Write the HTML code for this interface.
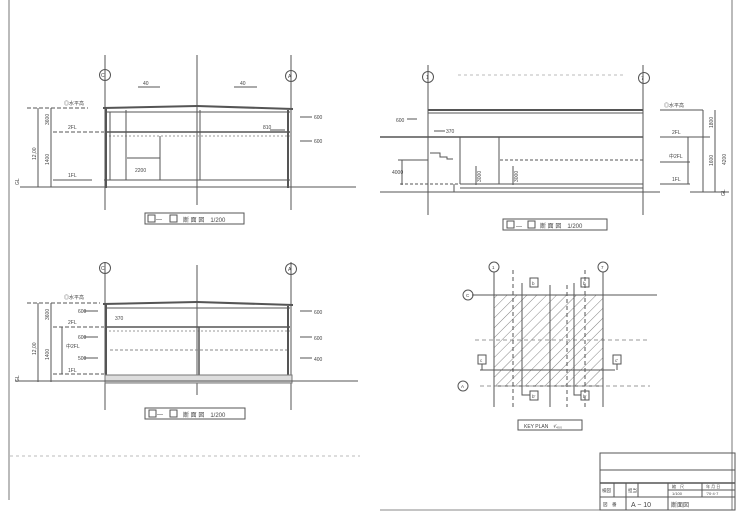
<!DOCTYPE html>
<html><head><meta charset="utf-8"><style>
html,body{margin:0;padding:0;background:#fff;}
svg{display:block;}
text{font-family:"Liberation Sans","Noto Sans CJK JP",sans-serif;fill:#444;}
</style></head><body>
<svg width="739" height="515" viewBox="0 0 739 515" xmlns="http://www.w3.org/2000/svg">
<rect width="739" height="515" fill="#fff"/>
<g stroke="#555" fill="none" stroke-width="1">
<!-- sheet borders -->
<line x1="9" y1="0" x2="9" y2="500" stroke="#777"/>
<line x1="732" y1="0" x2="732" y2="510" stroke="#777"/>
<line x1="10" y1="456" x2="360" y2="456" stroke="#bbb" stroke-dasharray="3 3"/>
<line x1="380" y1="510" x2="735" y2="510" stroke="#888"/>

<!-- ===== Section a-a (top-left) ===== -->
<line x1="105" y1="55" x2="105" y2="210"/>
<line x1="291" y1="55" x2="291" y2="210"/>
<line x1="197" y1="55" x2="197" y2="205"/>
<circle cx="105" cy="75" r="5.5"/><circle cx="291" cy="76" r="5.5"/>
<line x1="20" y1="187" x2="356" y2="187"/>
<line x1="103" y1="108" x2="197" y2="106" stroke-width="2"/>
<line x1="197" y1="106" x2="293" y2="109" stroke-width="2"/>
<line x1="105" y1="112" x2="290" y2="112"/>
<line x1="105" y1="132" x2="290" y2="132" stroke-width="1.5"/>
<line x1="105" y1="136" x2="290" y2="136" stroke="#999" stroke-dasharray="2 2"/>
<line x1="106" y1="108" x2="106" y2="188" stroke-width="2"/>
<line x1="288" y1="110" x2="288" y2="188" stroke-width="2"/>
<line x1="110" y1="112" x2="110" y2="180"/>
<line x1="126" y1="110" x2="126" y2="180"/>
<line x1="160" y1="136" x2="160" y2="180"/>
<line x1="200" y1="110" x2="200" y2="180"/>
<line x1="127" y1="158" x2="160" y2="158"/>
<line x1="104" y1="180" x2="290" y2="180"/>
<line x1="27" y1="108" x2="88" y2="108" stroke-dasharray="4 2"/>
<line x1="53" y1="132" x2="104" y2="132" stroke-dasharray="4 2"/>
<line x1="53" y1="180" x2="92" y2="180"/>
<line x1="38" y1="108" x2="38" y2="187"/>
<line x1="51" y1="108" x2="51" y2="187"/>
<line x1="138" y1="87" x2="160" y2="87"/><line x1="234" y1="87" x2="257" y2="87"/>
<line x1="300" y1="117" x2="312" y2="117"/><line x1="300" y1="141" x2="312" y2="141"/>
<line x1="270" y1="130" x2="285" y2="130"/>
<rect x="145" y="213" width="99" height="11"/>
<rect x="148" y="215" width="7" height="7"/><rect x="170" y="215" width="7" height="7"/>

<!-- ===== Section c-c (top-right) ===== -->
<line x1="428" y1="65" x2="428" y2="215"/>
<line x1="643" y1="65" x2="643" y2="215"/>
<circle cx="428" cy="77" r="5.5"/><circle cx="644" cy="78" r="5.5"/>
<line x1="458" y1="75" x2="625" y2="75" stroke="#bbb" stroke-dasharray="3 3"/>
<line x1="428" y1="110" x2="643" y2="110" stroke-width="2"/>
<line x1="428" y1="113" x2="643" y2="113"/>
<line x1="380" y1="137" x2="643" y2="137" stroke-width="1.5"/>
<line x1="380" y1="192" x2="660" y2="192"/>
<line x1="460" y1="184" x2="643" y2="184"/>
<line x1="460" y1="188" x2="643" y2="188"/>
<line x1="460" y1="137" x2="460" y2="184"/>
<line x1="499" y1="137" x2="499" y2="184"/>
<line x1="500" y1="160" x2="643" y2="160" stroke-dasharray="3 2"/>
<line x1="454" y1="184" x2="454" y2="192"/>
<line x1="398" y1="160" x2="428" y2="160"/>
<line x1="402" y1="160" x2="402" y2="185"/>
<line x1="400" y1="184" x2="460" y2="184" stroke-dasharray="3 2"/>
<polyline points="430,153 440,153 440,157 447,157 447,159 453,159"/>
<line x1="476" y1="166" x2="476" y2="185"/><line x1="513" y1="166" x2="513" y2="185"/>
<line x1="660" y1="110" x2="703" y2="110"/>
<line x1="660" y1="137" x2="710" y2="137"/>
<line x1="660" y1="162" x2="690" y2="162"/>
<line x1="660" y1="184" x2="690" y2="184"/>
<line x1="688" y1="137" x2="688" y2="184"/>
<line x1="703" y1="110" x2="703" y2="192"/>
<line x1="715" y1="110" x2="715" y2="192"/>
<line x1="690" y1="192" x2="729" y2="192"/>
<line x1="407" y1="119" x2="417" y2="119"/>
<line x1="434" y1="131" x2="445" y2="131"/>
<rect x="503" y="219" width="104" height="11"/>
<rect x="507" y="221" width="7" height="7"/><rect x="528" y="221" width="7" height="7"/>

<!-- ===== Section b-b (bottom-left) ===== -->
<line x1="105" y1="262" x2="105" y2="410"/>
<line x1="291" y1="262" x2="291" y2="410"/>
<line x1="197" y1="265" x2="197" y2="395"/>
<circle cx="105" cy="268" r="5.5"/><circle cx="291" cy="269" r="5.5"/>
<line x1="103" y1="304" x2="197" y2="302" stroke-width="2"/>
<line x1="197" y1="302" x2="293" y2="305" stroke-width="2"/>
<line x1="105" y1="308" x2="290" y2="308"/>
<line x1="105" y1="327" x2="290" y2="327" stroke-width="1.5"/>
<line x1="105" y1="331" x2="290" y2="331" stroke="#999" stroke-dasharray="2 2"/>
<line x1="110" y1="350" x2="290" y2="350" stroke="#888" stroke-dasharray="3 2"/>
<line x1="106" y1="304" x2="106" y2="376" stroke-width="2"/>
<line x1="288" y1="306" x2="288" y2="376" stroke-width="2"/>
<line x1="199" y1="327" x2="199" y2="376" stroke-width="1.5"/>
<rect x="105" y="375" width="187" height="8" fill="#ddd" stroke="#777"/>
<line x1="15" y1="381" x2="358" y2="381"/>
<line x1="27" y1="303" x2="100" y2="303" stroke-dasharray="4 2"/>
<line x1="53" y1="327" x2="104" y2="327" stroke-dasharray="4 2"/>
<line x1="53" y1="374" x2="104" y2="374" stroke-dasharray="4 2"/>
<line x1="38" y1="303" x2="38" y2="382"/>
<line x1="51" y1="303" x2="51" y2="382"/>
<line x1="62" y1="327" x2="62" y2="374"/>
<line x1="300" y1="311" x2="312" y2="311"/><line x1="300" y1="337" x2="312" y2="337"/><line x1="300" y1="358" x2="312" y2="358"/>
<line x1="84" y1="311" x2="98" y2="311"/><line x1="84" y1="337" x2="98" y2="337"/><line x1="84" y1="358" x2="98" y2="358"/>
<rect x="145" y="408" width="100" height="11"/>
<rect x="149" y="410" width="7" height="7"/><rect x="170" y="410" width="7" height="7"/>

<!-- ===== Key plan ===== -->
<defs><pattern id="h" width="7" height="7" patternUnits="userSpaceOnUse" patternTransform="rotate(45)"><line x1="0" y1="0" x2="0" y2="7" stroke="#666" stroke-width="0.8"/></pattern></defs>
<rect x="494" y="295" width="109" height="91" fill="url(#h)"/>
<rect x="494" y="295" width="109" height="91"/>
<line x1="472" y1="295" x2="657" y2="295"/>
<line x1="475" y1="340" x2="650" y2="340" stroke="#999" stroke-dasharray="4 3"/>
<line x1="480" y1="370" x2="615" y2="370"/>
<line x1="480" y1="386" x2="650" y2="386" stroke="#999" stroke-dasharray="4 3"/>
<line x1="494" y1="272" x2="494" y2="407"/>
<line x1="513" y1="270" x2="513" y2="407" stroke-dasharray="4 3"/>
<line x1="550" y1="285" x2="550" y2="407"/>
<line x1="567" y1="285" x2="567" y2="407" stroke-dasharray="4 3"/>
<line x1="585" y1="270" x2="585" y2="407" stroke-dasharray="4 3"/>
<line x1="603" y1="272" x2="603" y2="407"/>
<circle cx="494" cy="267" r="5"/><circle cx="603" cy="267" r="5"/>
<circle cx="468" cy="295" r="5"/><circle cx="463" cy="386" r="5"/>
<polyline points="522,283 522,395 530,395"/><polyline points="574,283 574,395 581,395"/>
<rect x="530" y="278" width="8" height="9"/><rect x="581" y="278" width="8" height="9"/>
<rect x="530" y="391" width="8" height="9"/><rect x="581" y="391" width="8" height="9"/>
<rect x="478" y="355" width="8" height="9"/><rect x="613" y="355" width="8" height="9"/>
<polyline points="482,364 482,370"/><polyline points="617,364 617,370"/>
<rect x="518" y="420" width="64" height="10"/>

<!-- ===== Title block ===== -->
<rect x="600" y="453" width="135" height="57"/>
<line x1="600" y1="470" x2="735" y2="470"/>
<line x1="600" y1="483" x2="735" y2="483" stroke-width="1.5"/>
<line x1="600" y1="497" x2="735" y2="497"/>
<line x1="614" y1="483" x2="614" y2="497"/>
<line x1="626" y1="483" x2="626" y2="510"/>
<line x1="638" y1="483" x2="638" y2="497"/>
<line x1="668" y1="483" x2="668" y2="510"/>
<line x1="702" y1="483" x2="702" y2="497"/>
<line x1="668" y1="490" x2="735" y2="490"/>
</g>

<g font-size="5">
<text x="101" y="77">C</text><text x="288" y="78">A</text>
<text x="143" y="85">40</text><text x="240" y="85">40</text>
<text x="64" y="105">◎水平高</text>
<text x="68" y="129">2FL</text><text x="68" y="177">1FL</text>
<text x="135" y="172">2200</text>
<text x="263" y="129">810</text>
<text x="314" y="119">600</text><text x="314" y="143">600</text>
<text transform="translate(36,160) rotate(-90)">12,00</text>
<text transform="translate(49,125) rotate(-90)">3600</text>
<text transform="translate(49,165) rotate(-90)">1400</text>
<text transform="translate(19,185) rotate(-90)">GL</text>
<text x="156" y="221" font-size="6">—</text>
<text x="183" y="222" font-size="6">断 面 図　1/200</text>

<text x="426" y="79">1</text><text x="641" y="80">7</text>
<text x="396" y="122">600</text><text x="446" y="133">370</text>
<text x="392" y="174">4000</text>
<text transform="translate(481,182) rotate(-90)">3000</text>
<text transform="translate(518,182) rotate(-90)">3000</text>
<text x="664" y="107">◎水平高</text>
<text x="672" y="134">2FL</text><text x="669" y="158">中2FL</text><text x="672" y="181">1FL</text>
<text transform="translate(713,128) rotate(-90)">1800</text>
<text transform="translate(713,166) rotate(-90)">1600</text>
<text transform="translate(726,165) rotate(-90)">4200</text>
<text transform="translate(725,196) rotate(-90)">GL</text>
<text x="516" y="228" font-size="6">—</text>
<text x="540" y="228" font-size="6">断 面 図　1/200</text>

<text x="101" y="270">C</text><text x="288" y="271">A</text>
<text x="64" y="299">◎水平高</text>
<text x="68" y="324">2FL</text><text x="66" y="348">中2FL</text><text x="68" y="372">1FL</text>
<text x="115" y="320">370</text>
<text x="78" y="313">600</text><text x="78" y="339">600</text><text x="78" y="360">500</text>
<text x="314" y="314">600</text><text x="314" y="340">600</text><text x="314" y="361">400</text>
<text transform="translate(36,355) rotate(-90)">12,00</text>
<text transform="translate(49,320) rotate(-90)">3600</text>
<text transform="translate(49,360) rotate(-90)">1400</text>
<text transform="translate(19,382) rotate(-90)">GL</text>
<text x="157" y="416" font-size="6">—</text>
<text x="183" y="417" font-size="6">断 面 図　1/200</text>

<text x="492" y="269" font-size="4.5">1</text><text x="601" y="269" font-size="4.5">7</text>
<text x="466" y="297" font-size="4.5">C</text><text x="461" y="388" font-size="4.5">A</text>
<text x="532" y="285" font-size="4.5">b</text><text x="583" y="285" font-size="4.5">b</text>
<text x="532" y="398" font-size="4.5">b'</text><text x="583" y="398" font-size="4.5">b'</text>
<text x="480" y="362" font-size="4.5">c</text><text x="615" y="362" font-size="4.5">c'</text>
<text x="524" y="428" font-size="5" font-family="Liberation Serif,serif">KEY PLAN　¹⁄₄₀₀</text>

<text x="602" y="492" font-size="4.5">検図</text><text x="628" y="492" font-size="4.5">担当</text>
<text x="672" y="488" font-size="4">縮　尺</text><text x="706" y="488" font-size="4">年 月 日</text>
<text x="672" y="495" font-size="4">1/100</text><text x="706" y="495" font-size="4">'70·4·7</text>
<text x="603" y="506" font-size="4.5">図　番</text>
<text x="631" y="507" font-size="7">A − 10</text>
<text x="671" y="507" font-size="6">断面図</text>
</g>
</svg>
</body></html>
